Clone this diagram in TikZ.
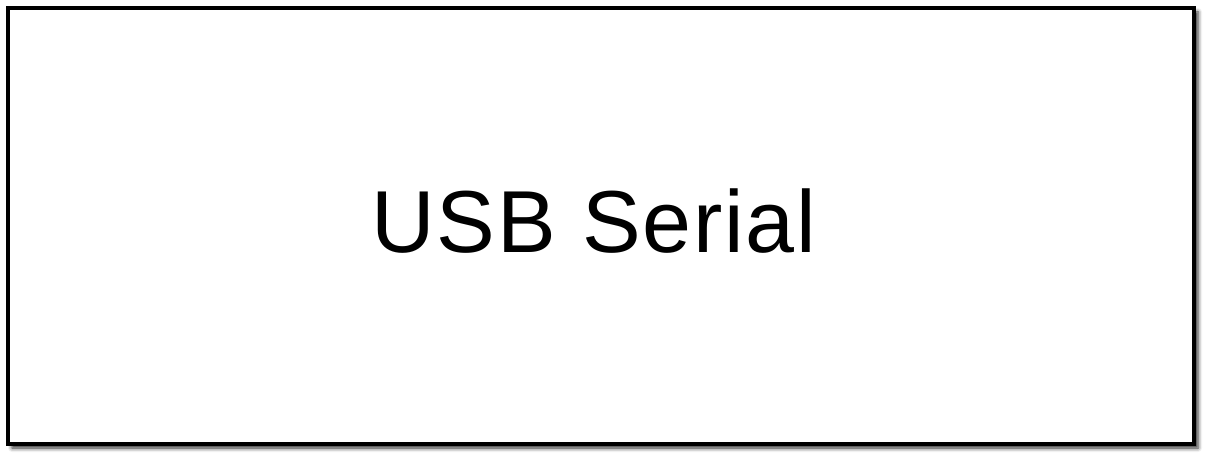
\documentclass[tikz,border=0pt]{standalone}
\usepackage{fontspec}
\setmainfont{Liberation Sans}
\usetikzlibrary{shadows.blur}
\begin{document}
\begin{tikzpicture}[x=1pt, y=1pt]
		\useasboundingbox (0,0) rectangle (1210,469);
		\node[rectangle, line width=3.5pt, draw=black, fill=white, minimum width=1186pt, minimum height=436pt, inner sep=0pt, blur shadow={shadow xshift=4pt, shadow yshift=-4pt, shadow blur radius=4pt, shadow opacity=85}](usbBox) at (601,243){};
		\node[font=\fontsize{88}{88}\selectfont\addfontfeature{LetterSpace=2}, anchor=base, inner sep=0pt](usbLabel) at (594,216){USB Serial};
	\end{tikzpicture}
\end{document}
